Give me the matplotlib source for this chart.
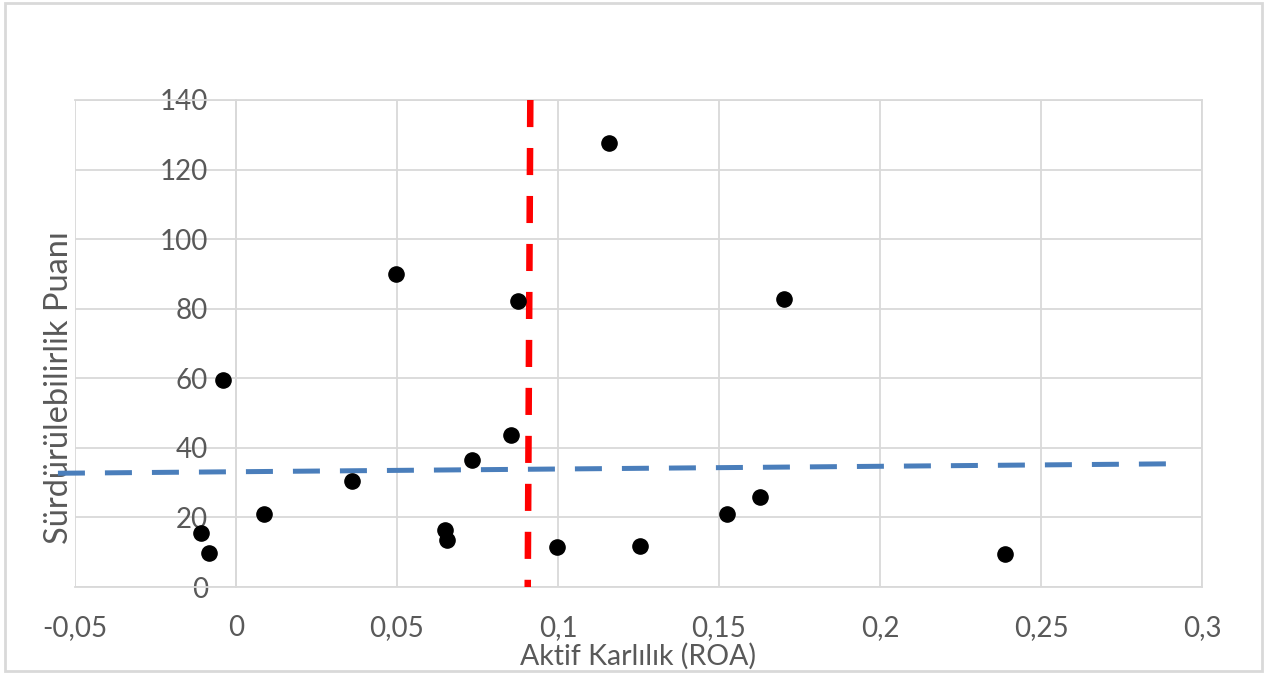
import matplotlib.pyplot as plt
from matplotlib.patches import Rectangle

# ROA vs sustainability score
roa = [-0.0109, -0.0084, -0.0040, 0.0087, 0.0360, 0.0497, 0.0649, 0.0655, 0.0733,
       0.0854, 0.0876, 0.0997, 0.1158, 0.1255, 0.1525, 0.1627, 0.1702, 0.2388]
score = [15.5, 9.8, 59.5, 21.0, 30.5, 90.0, 16.4, 13.5, 36.5,
         43.7, 82.2, 11.5, 127.6, 11.8, 21.0, 25.9, 82.8, 9.5]

# trend line (blue) and threshold line (red)
trend_x = [-0.0553, 0.2888]
trend_y = [32.7, 35.4]
thr_x = [0.0914, 0.0906]
thr_y = [140, 0]

xticks = [-0.05, 0, 0.05, 0.1, 0.15, 0.2, 0.25, 0.3]
xlabels = ['-0,05', '0', '0,05', '0,1', '0,15', '0,2', '0,25', '0,3']
yticks = [0, 20, 40, 60, 80, 100, 120, 140]

plt.rcParams['font.family'] = ['Lato', 'DejaVu Sans']
txt = '#595959'
grid = '#d9d9d9'

fig = plt.figure(figsize=(12.67, 6.77), dpi=100)
fig.patches.append(Rectangle((5 / 1267, 6 / 677), 1257 / 1267, 668 / 677,
                             transform=fig.transFigure, fill=False,
                             edgecolor=grid, linewidth=2))
ax = fig.add_axes([75 / 1267, 1 - 587 / 677, 1127 / 1267, 487 / 677])

ax.scatter(roa, score, s=120, color='black', zorder=4)
ax.plot(trend_x, trend_y, color='#4a7ebb', linewidth=3.6, dashes=(5.4, 4),
        solid_capstyle='butt', dash_capstyle='butt', clip_on=False, zorder=3)
ax.plot(thr_x, thr_y, color='#ff0000', linewidth=4.7, dashes=(4.15, 3.2),
        dash_capstyle='butt', zorder=3)

ax.set_xlim(-0.05, 0.3)
ax.set_ylim(0, 140)
ax.set_xticks(xticks)
ax.set_xticklabels(xlabels)
ax.set_yticks(yticks)
ax.grid(True, color=grid, linewidth=1.3)
ax.set_axisbelow(True)

ax.spines['left'].set_position(('data', 0))
for s in ax.spines.values():
    s.set_color(grid)
    s.set_linewidth(1.3)
ax.tick_params(axis='both', length=0, labelsize=20, labelcolor=txt)
ax.tick_params(axis='x', pad=20)
ax.tick_params(axis='y', pad=20)

ax.set_xlabel('Aktif Karlılık (ROA)', fontsize=20.5, color=txt, labelpad=0)
ax.set_ylabel('Sürdürülebilirlik Puanı', fontsize=23.5, color=txt)
ax.xaxis.set_label_coords(0.5, -0.115)
ax.yaxis.set_label_coords(-0.001, 0.41)
ax.yaxis.label.set_zorder(5)

fig.savefig('out.png', dpi=100)
